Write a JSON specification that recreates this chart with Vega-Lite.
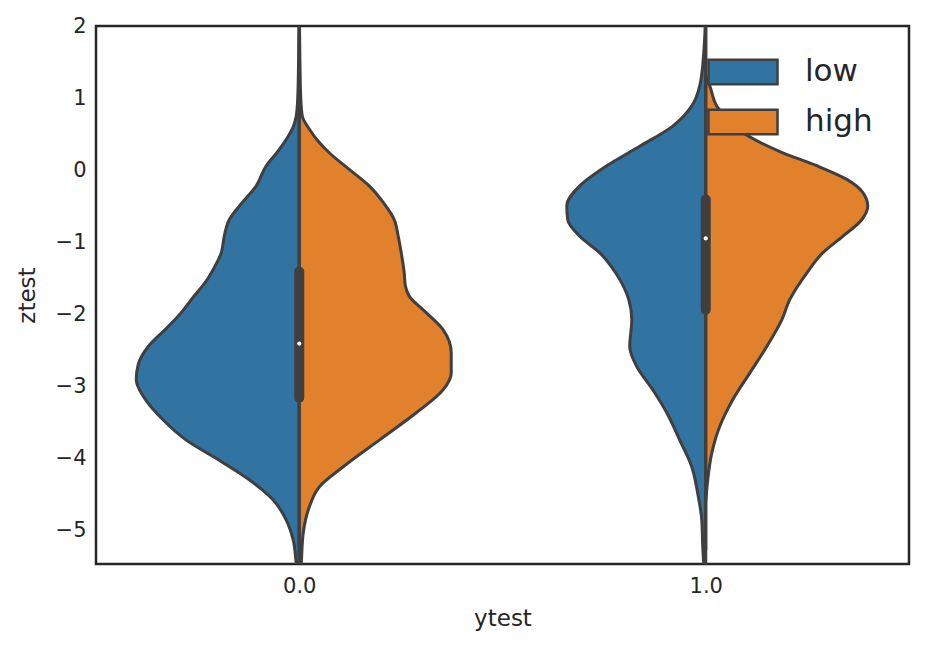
{
  "$schema": "https://vega.github.io/schema/vega-lite/v6.json",
  "width": 813,
  "height": 538,
  "autosize": {"type": "none"},
  "padding": {"left": 96, "top": 26, "right": 17, "bottom": 85},
  "background": "white",
  "config": {
    "view": {"stroke": "#262626", "strokeWidth": 2.5},
    "font": "DejaVu Sans",
    "axis": {"grid": false, "domain": false, "ticks": false, "labelColor": "#262626", "titleColor": "#262626", "labelFont": "DejaVu Sans", "titleFont": "DejaVu Sans", "titleFontWeight": "normal"}
  },
  "datasets": {
    "violin": [
      {"ytest":0,"hue":"low","z":2.3,"d":0},{"ytest":0,"hue":"low","z":1.5,"d":0.0017},{"ytest":0,"hue":"low","z":1.0,"d":0.0037},{"ytest":0,"hue":"low","z":0.75,"d":0.0074},{"ytest":0,"hue":"low","z":0.6,"d":0.0148},{"ytest":0,"hue":"low","z":0.47,"d":0.0271},{"ytest":0,"hue":"low","z":0.25,"d":0.0541},{"ytest":0,"hue":"low","z":0.06,"d":0.0812},{"ytest":0,"hue":"low","z":-0.22,"d":0.1058},{"ytest":0,"hue":"low","z":-0.5,"d":0.1476},{"ytest":0,"hue":"low","z":-0.69,"d":0.1722},{"ytest":0,"hue":"low","z":-0.92,"d":0.1845},{"ytest":0,"hue":"low","z":-1.15,"d":0.1919},{"ytest":0,"hue":"low","z":-1.38,"d":0.2116},{"ytest":0,"hue":"low","z":-1.52,"d":0.2263},{"ytest":0,"hue":"low","z":-1.8,"d":0.2657},{"ytest":0,"hue":"low","z":-1.98,"d":0.2903},{"ytest":0,"hue":"low","z":-2.2,"d":0.3272},{"ytest":0,"hue":"low","z":-2.45,"d":0.3715},{"ytest":0,"hue":"low","z":-2.7,"d":0.3961},{"ytest":0,"hue":"low","z":-2.91,"d":0.401},{"ytest":0,"hue":"low","z":-3.14,"d":0.3838},{"ytest":0,"hue":"low","z":-3.47,"d":0.3346},{"ytest":0,"hue":"low","z":-3.75,"d":0.278},{"ytest":0,"hue":"low","z":-4.03,"d":0.1968},{"ytest":0,"hue":"low","z":-4.3,"d":0.123},{"ytest":0,"hue":"low","z":-4.58,"d":0.064},{"ytest":0,"hue":"low","z":-4.86,"d":0.032},{"ytest":0,"hue":"low","z":-5.14,"d":0.0148},{"ytest":0,"hue":"low","z":-5.46,"d":0.0074},{"ytest":0,"hue":"low","z":-5.8,"d":0},
      {"ytest":0,"hue":"high","z":2.3,"d":0},{"ytest":0,"hue":"high","z":1.5,"d":0.0017},{"ytest":0,"hue":"high","z":1.0,"d":0.0037},{"ytest":0,"hue":"high","z":0.75,"d":0.0074},{"ytest":0,"hue":"high","z":0.57,"d":0.0246},{"ytest":0,"hue":"high","z":0.4,"d":0.0467},{"ytest":0,"hue":"high","z":0.24,"d":0.0738},{"ytest":0,"hue":"high","z":0.01,"d":0.123},{"ytest":0,"hue":"high","z":-0.22,"d":0.1722},{"ytest":0,"hue":"high","z":-0.45,"d":0.2066},{"ytest":0,"hue":"high","z":-0.69,"d":0.2337},{"ytest":0,"hue":"high","z":-0.92,"d":0.2435},{"ytest":0,"hue":"high","z":-1.15,"d":0.2509},{"ytest":0,"hue":"high","z":-1.43,"d":0.2583},{"ytest":0,"hue":"high","z":-1.6,"d":0.2608},{"ytest":0,"hue":"high","z":-1.75,"d":0.2706},{"ytest":0,"hue":"high","z":-1.98,"d":0.3124},{"ytest":0,"hue":"high","z":-2.22,"d":0.3542},{"ytest":0,"hue":"high","z":-2.54,"d":0.3739},{"ytest":0,"hue":"high","z":-2.82,"d":0.3739},{"ytest":0,"hue":"high","z":-3.05,"d":0.3542},{"ytest":0,"hue":"high","z":-3.37,"d":0.2878},{"ytest":0,"hue":"high","z":-3.75,"d":0.1968},{"ytest":0,"hue":"high","z":-4.12,"d":0.1082},{"ytest":0,"hue":"high","z":-4.4,"d":0.0492},{"ytest":0,"hue":"high","z":-4.68,"d":0.0246},{"ytest":0,"hue":"high","z":-5.04,"d":0.0098},{"ytest":0,"hue":"high","z":-5.46,"d":0.0049},{"ytest":0,"hue":"high","z":-5.8,"d":0},
      {"ytest":1,"hue":"low","z":2.3,"d":0},{"ytest":1,"hue":"low","z":1.63,"d":0.0049},{"ytest":1,"hue":"low","z":1.17,"d":0.0148},{"ytest":1,"hue":"low","z":0.89,"d":0.0344},{"ytest":1,"hue":"low","z":0.75,"d":0.0541},{"ytest":1,"hue":"low","z":0.61,"d":0.0812},{"ytest":1,"hue":"low","z":0.33,"d":0.1624},{"ytest":1,"hue":"low","z":0.06,"d":0.2435},{"ytest":1,"hue":"low","z":-0.22,"d":0.31},{"ytest":1,"hue":"low","z":-0.5,"d":0.3419},{"ytest":1,"hue":"low","z":-0.69,"d":0.3395},{"ytest":1,"hue":"low","z":-0.92,"d":0.31},{"ytest":1,"hue":"low","z":-1.15,"d":0.2608},{"ytest":1,"hue":"low","z":-1.43,"d":0.2214},{"ytest":1,"hue":"low","z":-1.8,"d":0.1894},{"ytest":1,"hue":"low","z":-2.08,"d":0.182},{"ytest":1,"hue":"low","z":-2.45,"d":0.187},{"ytest":1,"hue":"low","z":-2.73,"d":0.1697},{"ytest":1,"hue":"low","z":-3.05,"d":0.1304},{"ytest":1,"hue":"low","z":-3.37,"d":0.0959},{"ytest":1,"hue":"low","z":-3.75,"d":0.064},{"ytest":1,"hue":"low","z":-4.12,"d":0.0344},{"ytest":1,"hue":"low","z":-4.49,"d":0.0197},{"ytest":1,"hue":"low","z":-4.86,"d":0.0098},{"ytest":1,"hue":"low","z":-5.23,"d":0.0074},{"ytest":1,"hue":"low","z":-5.47,"d":0.0049},{"ytest":1,"hue":"low","z":-5.8,"d":0},
      {"ytest":1,"hue":"high","z":1.3,"d":0},{"ytest":1,"hue":"high","z":1.17,"d":0.0098},{"ytest":1,"hue":"high","z":0.89,"d":0.0271},{"ytest":1,"hue":"high","z":0.7,"d":0.0541},{"ytest":1,"hue":"high","z":0.52,"d":0.091},{"ytest":1,"hue":"high","z":0.24,"d":0.1894},{"ytest":1,"hue":"high","z":0.06,"d":0.2731},{"ytest":1,"hue":"high","z":-0.13,"d":0.3469},{"ytest":1,"hue":"high","z":-0.31,"d":0.3862},{"ytest":1,"hue":"high","z":-0.5,"d":0.3985},{"ytest":1,"hue":"high","z":-0.69,"d":0.3838},{"ytest":1,"hue":"high","z":-0.92,"d":0.337},{"ytest":1,"hue":"high","z":-1.15,"d":0.2878},{"ytest":1,"hue":"high","z":-1.43,"d":0.2485},{"ytest":1,"hue":"high","z":-1.8,"d":0.2066},{"ytest":1,"hue":"high","z":-2.08,"d":0.187},{"ytest":1,"hue":"high","z":-2.45,"d":0.1501},{"ytest":1,"hue":"high","z":-2.82,"d":0.1082},{"ytest":1,"hue":"high","z":-3.19,"d":0.0664},{"ytest":1,"hue":"high","z":-3.56,"d":0.0344},{"ytest":1,"hue":"high","z":-3.93,"d":0.0148},{"ytest":1,"hue":"high","z":-4.3,"d":0.0049},{"ytest":1,"hue":"high","z":-4.6,"d":0}
    ],
    "box": [
      {"ytest":0,"lo":-5.8,"hi":2.3,"q1":-3.16,"q3":-1.41,"med":-2.41},
      {"ytest":1,"lo":-5.28,"hi":2.3,"q1":-1.94,"q3":-0.41,"med":-0.95}
    ]
  },
  "layer": [
    {
      "data": {"name": "violin"},
      "transform": [
        {"calculate": "datum.hue == 'low' ? datum.ytest - datum.d : datum.ytest + datum.d", "as": "edge"}
      ],
      "mark": {"type": "area", "orient": "horizontal", "interpolate": "monotone", "stroke": "#3f3f3f", "strokeWidth": 3, "opacity": 1, "clip": true},
      "encoding": {
        "y": {"field": "z", "type": "quantitative", "scale": {"domain": [-5.47, 2.0], "nice": false, "zero": false},
              "axis": {"values": [-5,-4,-3,-2,-1,0,1,2], "format": "d", "labelFontSize": 21, "labelPadding": 10, "title": "ztest", "titleFontSize": 23, "titlePadding": 16}},
        "x": {"field": "edge", "type": "quantitative", "scale": {"domain": [-0.5, 1.5], "nice": false, "zero": false},
              "axis": {"values": [0, 1], "format": ".1f", "labelFontSize": 21, "labelPadding": 11, "title": "ytest", "titleFontSize": 23, "titlePadding": 11}},
        "x2": {"field": "ytest"},
        "color": {"field": "hue", "type": "nominal",
                  "scale": {"domain": ["low", "high"], "range": ["#3274a1", "#e1812c"]},
                  "legend": {"title": null, "orient": "none", "legendX": 621, "legendY": 20, "padding": 0,
                             "symbolType": "M-1.4,-0.5H1.4V0.5H-1.4Z", "symbolSize": 2430, "symbolStrokeColor": "#3f3f3f", "symbolStrokeWidth": 2.5, "symbolOpacity": 1,
                             "labelFontSize": 31, "labelColor": "#262626", "labelFont": "DejaVu Sans", "labelOffset": 36, "rowPadding": 6}},
        "detail": {"field": "ytest", "type": "nominal"}
      }
    },
    {
      "data": {"name": "box"},
      "mark": {"type": "rule", "color": "#3f3f3f", "strokeWidth": 3, "clip": true},
      "encoding": {
        "x": {"field": "ytest", "type": "quantitative"},
        "y": {"field": "lo", "type": "quantitative"},
        "y2": {"field": "hi"}
      }
    },
    {
      "data": {"name": "box"},
      "mark": {"type": "rule", "color": "#3f3f3f", "strokeWidth": 10, "strokeCap": "round", "clip": true},
      "encoding": {
        "x": {"field": "ytest", "type": "quantitative"},
        "y": {"field": "q1", "type": "quantitative"},
        "y2": {"field": "q3"}
      }
    },
    {
      "data": {"name": "box"},
      "mark": {"type": "point", "filled": true, "color": "white", "opacity": 1, "size": 18, "clip": true},
      "encoding": {
        "x": {"field": "ytest", "type": "quantitative"},
        "y": {"field": "med", "type": "quantitative"}
      }
    }
  ]
}
